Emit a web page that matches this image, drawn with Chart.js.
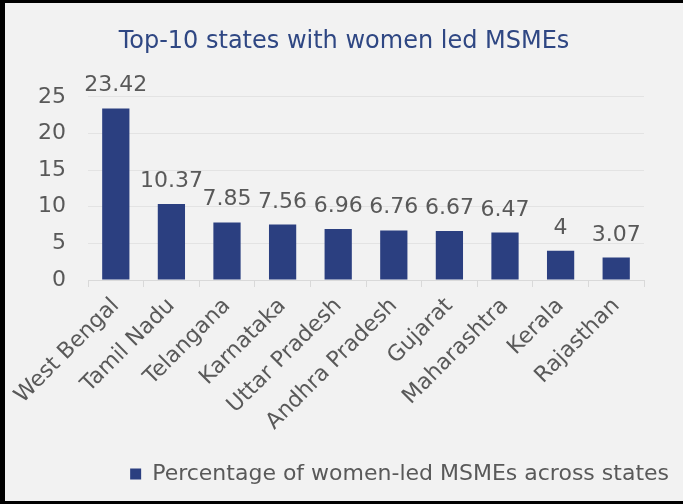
<!DOCTYPE html>
<html>
<head>
<meta charset="utf-8">
<script src="https://cdn.jsdelivr.net/npm/chart.js@4"></script>
<style>
  html, body { margin: 0; padding: 0; background: #000; }
  #frame {
    position: absolute; left: 5px; top: 3px;
    width: 678px; height: 498px; background: #f2f2f2;
  }
</style>
</head>
<body>
<div id="frame"><canvas id="chart"></canvas></div>
<script>
var states = ['West Bengal', 'Tamil Nadu', 'Telangana', 'Karnataka', 'Uttar Pradesh',
              'Andhra Pradesh', 'Gujarat', 'Maharashtra', 'Kerala', 'Rajasthan'];
var shares = [23.42, 10.37, 7.85, 7.56, 6.96, 6.76, 6.67, 6.47, 4, 3.07];
var seriesName = 'Percentage of women-led MSMEs across states';
var chartTitle = 'Top-10 states with women led MSMEs';

var fontName = '"DejaVu Sans", sans-serif';
var textGray = '#595959';

// value labels above each bar
var barValues = {
    id: 'barValues',
    afterDatasetsDraw: function (chart) {
        var ctx = chart.ctx;
        var meta = chart.getDatasetMeta(0);
        ctx.save();
        ctx.font = '22px ' + fontName;
        ctx.fillStyle = textGray;
        ctx.textAlign = 'center';
        ctx.textBaseline = 'alphabetic';
        meta.data.forEach(function (bar, i) {
            ctx.fillText(String(shares[i]), bar.x, bar.y - 17);
        });
        ctx.restore();
    }
};

var config = {
    type: 'bar',
    data: {
        labels: states,
        datasets: [{
            label: seriesName,
            data: shares,
            backgroundColor: '#2B3F80',
            barPercentage: 0.49,
            categoryPercentage: 1.0
        }]
    },
    options: {
        responsive: false,
        animation: false,
        layout: { padding: { left: 0, right: 0, top: 0, bottom: 6 } },
        plugins: {
            title: {
                display: true,
                text: chartTitle,
                color: '#2F4783',
                font: { family: fontName, size: 24, weight: 'normal' },
                padding: { top: 24, bottom: 41 }
            },
            legend: {
                position: 'bottom',
                align: 'end',
                labels: {
                    color: textGray,
                    font: { family: fontName, size: 22 },
                    boxWidth: 11,
                    boxHeight: 11,
                    padding: 14
                }
            },
            tooltip: { enabled: false }
        },
        scales: {
            x: {
                grid: {
                    offset: true,
                    drawOnChartArea: false,
                    color: '#d9d9d9',
                    tickLength: 7
                },
                border: { color: '#d9d9d9' },
                ticks: {
                    color: textGray,
                    font: { family: fontName, size: 22 },
                    minRotation: 45,
                    maxRotation: 45,
                    padding: 6
                },
                afterFit: function (scale) { scale.height = 169; }
            },
            y: {
                min: 0,
                max: 25,
                ticks: {
                    stepSize: 5,
                    color: textGray,
                    font: { family: fontName, size: 22 },
                    padding: 22
                },
                grid: { color: '#e3e3e3', drawTicks: false },
                border: { display: false },
                afterFit: function (scale) { scale.width = 83; }
            },
            // empty right-hand axis, only keeps space right of the bars
            yRight: {
                position: 'right',
                display: true,
                min: 0,
                max: 25,
                ticks: { display: false },
                grid: { display: false },
                border: { display: false },
                afterFit: function (scale) { scale.width = 39; }
            }
        }
    },
    plugins: [barValues]
};

var canvas = document.getElementById('chart');
canvas.width = 678;
canvas.height = 498;
new Chart(canvas.getContext('2d'), config);
</script>
</body>
</html>
